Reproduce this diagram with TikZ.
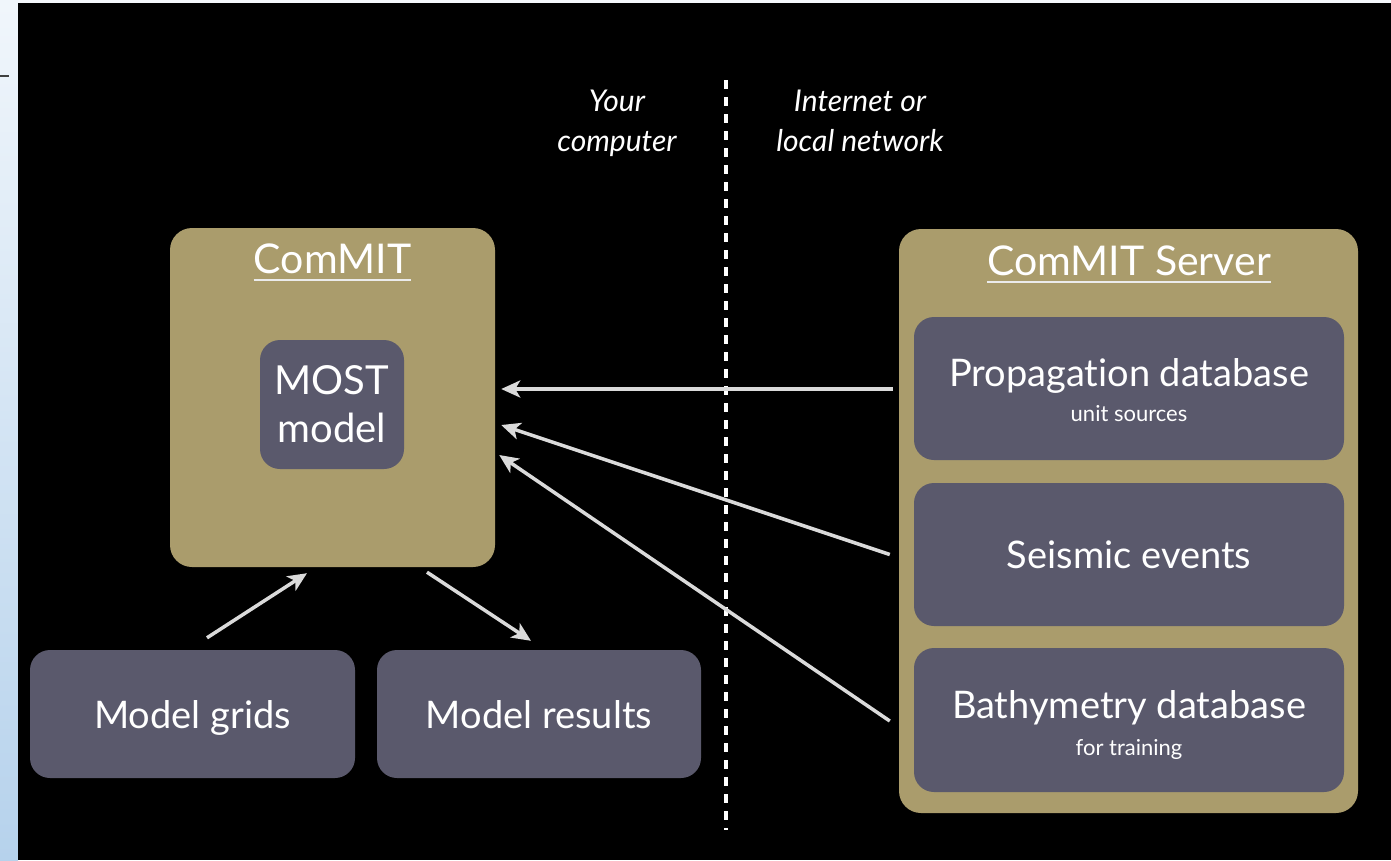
\documentclass[tikz,border=0pt]{standalone}
\usepackage{fontspec}
\setmainfont[Ligatures={NoCommon}]{Lato}
\usepackage{tikz}
\usetikzlibrary{arrows.meta}
\definecolor{tanbox}{RGB}{170,156,108}
\definecolor{slatebox}{RGB}{90,89,108}
\definecolor{arrowgray}{RGB}{218,218,218}
\definecolor{stripe}{RGB}{182,210,236}
\newcommand{\titlefont}{\fontsize{41}{44}\selectfont}
\newcommand{\boxfont}{\fontsize{38}{35}\selectfont}
\newcommand{\mostfont}{\fontsize{40}{48}\selectfont}
\newcommand{\subfont}{\fontsize{22}{35}\selectfont}
\newcommand{\sidefont}{\fontsize{30}{40}\selectfont\itshape}

\begin{document}
\begin{tikzpicture}
    [x=1pt,y=-1pt,line cap=butt,
     panel/.style={rounded corners=22pt,fill=tanbox,inner sep=0pt},
     unit/.style={rounded corners=20pt,fill=slatebox,text=white,align=center,inner sep=0pt,font=\boxfont},
     oneline/.style={text height=28pt,text depth=0pt},
     heading/.style={anchor=base,inner sep=0pt,text=white,font=\titlefont},
     uline/.style={draw=white!92!black,line width=2pt},
     side/.style={text=white,align=center,font=\sidefont},
     flow/.style={-{Stealth[length=19pt,width=17pt,inset=5pt]},draw=arrowgray,line width=3.5pt}]
%slide background
\useasboundingbox (0,0) rectangle (1391,860);
\fill[white!85!stripe] (0,0) rectangle (1391,860);
\shade[top color=white!80!stripe,bottom color=stripe] (0,0) rectangle (18,860);
\fill[black] (18,3) rectangle (1391,860);
\draw[black!75,line width=2pt] (0,76) -- (9,76);

%divider between the two sides
\draw[white,line width=4pt,dash pattern=on 9pt off 8pt] (726,80) -- (726,830);
\node[side] (yours) at (617,123) {Your\\computer};
\node[side] (net) at (860,121) {Internet or\\local network};

%your computer
\node[panel,minimum width=325pt,minimum height=339pt] (commit) at (332.5,397.5) {};
\node[heading] (committl) at (332.5,273) {ComMIT};
\draw[uline] ([yshift=-7pt]committl.base west) -- ([yshift=-7pt]committl.base east);
\node[unit,font=\mostfont,minimum width=144pt,minimum height=129pt] (most) at (332,404.5) {MOST\\model};

\node[unit,oneline,minimum width=325pt,minimum height=128pt] (grids) at (192.5,714) {Model grids};
\node[unit,oneline,minimum width=324pt,minimum height=128pt] (results) at (539,714) {Model results};

%server side
\node[panel,minimum width=459pt,minimum height=584pt] (server) at (1128.5,521) {};
\node[heading] (servertl) at (1129,275) {ComMIT Server};
\draw[uline] ([yshift=-7pt]servertl.base west) -- ([yshift=-7pt]servertl.base east);
\node[unit,minimum width=430pt,minimum height=143pt] (prop) at (1129,388.5)
     {\rule{0pt}{32pt}Propagation database\\[0pt]{\subfont unit sources}};
\node[unit,oneline,minimum width=430pt,minimum height=143pt] (seis) at (1129,554.5) {Seismic events};
\node[unit,minimum width=430pt,minimum height=144pt] (bathy) at (1129,720)
     {\rule{0pt}{37pt}Bathymetry database\\[2pt]{\subfont for training}};

%data flow
\draw[flow] ([shift={(-21,0.5)}]prop.west) -- ([shift={(6,-8.5)}]commit.east);
\draw[flow] ([shift={(-24,0)}]seis.west) -- ([shift={(6,27.5)}]commit.east);
\draw[flow] ([shift={(-24,1)}]bathy.west) -- ([shift={(4,57.5)}]commit.east);
\draw[flow] ([shift={(14.5,-12)}]grids.north) -- ([shift={(-25.5,6)}]commit.south);
\draw[flow] ([shift={(94.5,5)}]commit.south) -- ([shift={(-8,-9)}]results.north);
\end{tikzpicture}
\end{document}
